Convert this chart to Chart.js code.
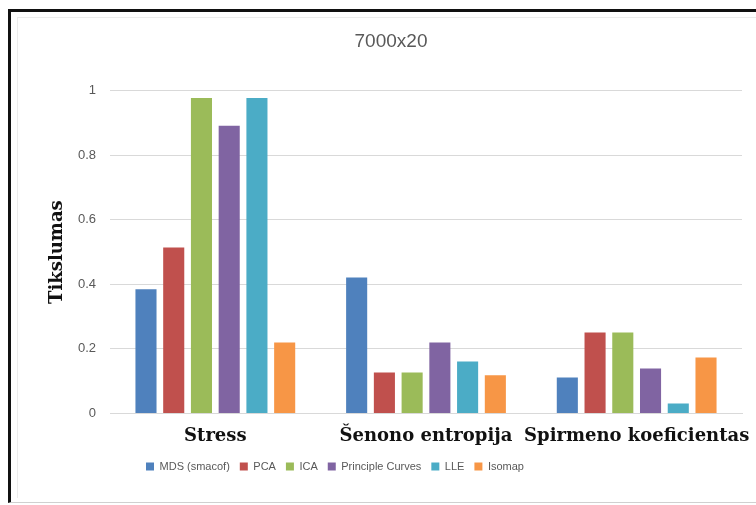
<!DOCTYPE html>
<html>
<head>
<meta charset="utf-8">
<script src="https://cdn.jsdelivr.net/npm/chart.js@4.4.0/dist/chart.umd.min.js"></script>
<style>
  html, body { margin: 0; padding: 0; background: #fff; }
  #frame {
    position: absolute; left: 8px; top: 9px; width: 760px; height: 490px;
    border-top: 3px solid #111; border-left: 3px solid #111; border-bottom: 1px solid #d0d0d0;
  }
  #inner {
    position: absolute; left: 17px; top: 17px; width: 760px; height: 480px;
    border-top: 1px solid #ececec; border-left: 1px solid #ececec;
  }
  #wrap { position: absolute; left: 0; top: 0; width: 756px; height: 505px; }
</style>
</head>
<body>
<div id="frame"></div>
<div id="inner"></div>
<div id="wrap"><canvas id="chart" width="756" height="505"></canvas></div>
<script>
// Metric groups on the x axis
var categories = ['Stress', 'Šenono entropija', 'Spirmeno koeficientas'];

// One value per metric for each method
var mdsSmacof = [0.385, 0.421, 0.111];
var pca = [0.514, 0.127, 0.251];
var ica = [0.978, 0.127, 0.251];
var principleCurves = [0.892, 0.220, 0.139];
var lle = [0.978, 0.161, 0.031];
var isomap = [0.220, 0.118, 0.173];

var seriesNames = ['MDS (smacof)', 'PCA', 'ICA', 'Principle Curves', 'LLE', 'Isomap'];
var seriesColors = ['#4F81BD', '#C0504D', '#9BBB59', '#8064A2', '#4BACC6', '#F79646'];
var seriesValues = [mdsSmacof, pca, ica, principleCurves, lle, isomap];

var yTicks = [0, 0.2, 0.4, 0.6, 0.8, 1];

var sans = '"Liberation Sans", sans-serif';
var serif = '"DejaVu Serif", serif';

var datasets = seriesNames.map(function (name, i) {
   return {
      label: name,
      data: seriesValues[i],
      backgroundColor: seriesColors[i],
      borderWidth: 0,
      categoryPercentage: 0.79,
      barPercentage: 0.76
   };
});

// move the legend so its items sit under the left part of the plot
var legendShift = {
   id: 'legendShift',
   afterLayout: function (chart) {
      var lg = chart.legend;
      var center = 335;
      var half = (lg.right - lg.left) / 2;
      lg.left = center - half;
      lg.right = center + half;
   }
};

var ctx = document.getElementById('chart').getContext('2d');

var newChart = new Chart(ctx, {
   type: 'bar',
   data: {
      labels: categories,
      datasets: datasets
   },
   plugins: [legendShift],
   options: {
      responsive: false,
      animation: false,
      layout: {
         padding: { left: 40, right: 14, top: 10, bottom: 23 }
      },
      plugins: {
         title: {
            display: true,
            text: '7000x20',
            color: '#595959',
            font: { family: sans, size: 19, weight: 'normal' },
            padding: { top: 20, bottom: 38 }
         },
         legend: {
            position: 'bottom',
            labels: {
               boxWidth: 8,
               boxHeight: 8,
               padding: 10,
               color: '#595959',
               font: { family: sans, size: 11 }
            }
         },
         tooltip: { enabled: false }
      },
      scales: {
         x: {
            // long labels may hang past the plot edge, don't shrink the plot for them
            afterFit: function (scale) {
               scale.paddingLeft = 0;
               scale.paddingRight = 0;
            },
            grid: { display: false },
            border: { display: true, color: '#d9d9d9' },
            ticks: {
               color: '#111',
               font: { family: serif, size: 18, weight: 'bold' },
               maxRotation: 0,
               minRotation: 0,
               autoSkip: false,
               padding: 4
            }
         },
         y: {
            min: 0,
            max: 1,
            afterFit: function (scale) { scale.width = 70; },
            afterBuildTicks: function (scale) {
               scale.ticks = yTicks.map(function (v) { return { value: v }; });
            },
            grid: { color: '#d9d9d9', drawTicks: false },
            border: { display: false },
            ticks: {
               color: '#595959',
               padding: 14,
               font: { family: sans, size: 13 },
               callback: function (v) { return String(Math.round(v * 10) / 10); }
            },
            title: {
               display: true,
               text: 'Tikslumas',
               color: '#111',
               padding: { top: 7, bottom: 0 },
               font: { family: serif, size: 18, weight: 'bold' }
            }
         }
      }
   }
});
</script>
</body>
</html>
